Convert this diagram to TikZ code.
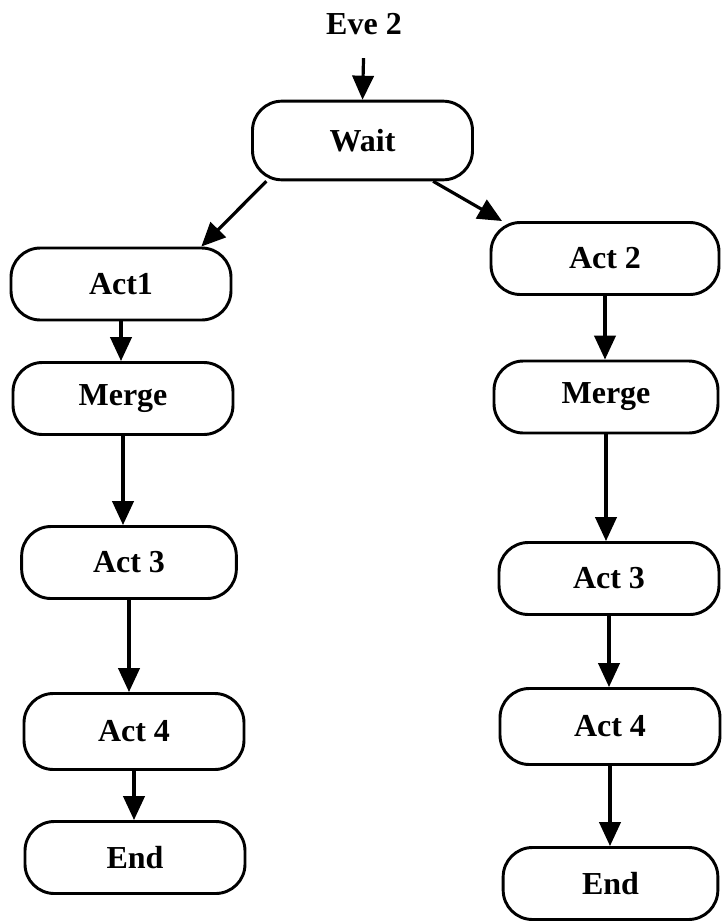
\documentclass[tikz,border=0pt]{standalone}
\usepackage{fontspec}
\setmainfont{Liberation Serif}
\usepackage{tikz}
\usetikzlibrary{arrows.meta}
\tikzset{
  actbox/.style={draw,line width=2.2pt,rounded corners=22pt,minimum width=165pt,minimum height=54pt,inner sep=0pt},
  flow/.style={line width=2.4pt,-{Triangle[length=18pt,width=16pt]}}
}

\begin{document}
\begin{tikzpicture}[x=0.75pt,y=-0.75pt,font=\fontsize{24}{28}\selectfont\bfseries]
  \useasboundingbox (0,0) rectangle (721,924);
  % ---- trigger + wait ----
  \node (eve) at (364,24) {Eve 2};
  \node[actbox,minimum height=59pt] (wait) at (362.5,140.5) {Wait};
  % ---- left branch ----
  \node[actbox] (act1) at (121,284) {Act1};
  \node[actbox] (mergeL) at (123,398.5) {Merge};
  \node[actbox,minimum width=161pt] (act3L) at (129,562.5) {Act 3};
  \node[actbox,minimum height=57pt] (act4L) at (134,731.5) {Act 4};
  \node[actbox] (endL) at (135,857.5) {End};
  % ---- right branch ----
  \node[actbox,minimum width=171pt] (act2) at (605,258.5) {Act 2};
  \node[actbox,minimum width=168pt] (mergeR) at (606,397) {Merge};
  \node[actbox] (act3R) at (609,578.5) {Act 3};
  \node[actbox,minimum height=57pt] (act4R) at (610,726.5) {Act 4};
  \node[actbox,minimum width=161pt] (endR) at (610.5,883.5) {End};
  % ---- connectors ----
  \draw[flow,shorten <=14pt] (eve.south) -- (wait.north);
  \draw[flow] (wait.203) -- (act1.25);
  \draw[flow] (wait.330) -- (act2.160);
  \draw[flow] (act1.south) -- (act1.south |- mergeL.north);
  \draw[flow] (mergeL.south) -- (mergeL.south |- act3L.north);
  \draw[flow] (act3L.south) -- (act3L.south |- act4L.north);
  \draw[flow] (act4L.south) -- (act4L.south |- endL.north);
  \draw[flow] (act2.south) -- (act2.south |- mergeR.north);
  \draw[flow] (mergeR.south) -- (mergeR.south |- act3R.north);
  \draw[flow] (act3R.south) -- (act3R.south |- act4R.north);
  \draw[flow] (act4R.south) -- (act4R.south |- endR.north);
\end{tikzpicture}
\end{document}
